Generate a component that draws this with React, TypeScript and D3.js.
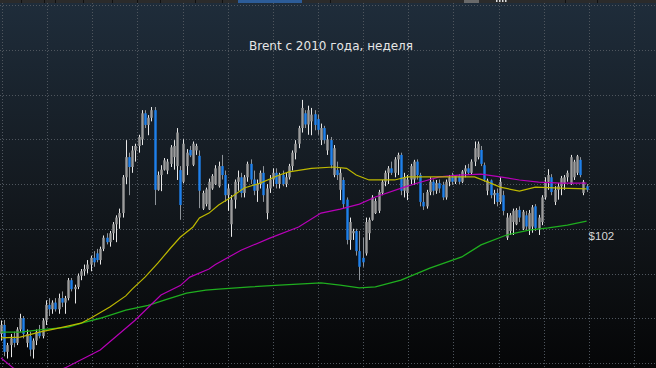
import React from 'react';
import * as d3 from 'd3';

const W = 656;
const H = 368;

const title = 'Brent с 2010 года, неделя';
const lastLabel = '$102';

// недельные свечи [open, high, low, close], с весны 2010
const candles: [number, number, number, number][] = [
  [76.5, 79.5, 75.0, 78.5], [78.5, 79.6, 71.5, 72.5], [72.5, 74.5, 71.0, 74.0], [74.0, 76.5, 71.3, 75.5],
  [75.5, 77.0, 73.5, 74.5], [74.5, 78.0, 74.0, 77.5], [77.5, 81.0, 77.0, 80.0], [80.0, 80.5, 75.5, 76.5],
  [74.5, 77.5, 73.5, 76.5], [76.0, 77.0, 71.5, 73.0], [73.0, 75.5, 71.0, 75.0], [75.0, 77.5, 74.0, 77.0],
  [77.0, 78.5, 75.5, 76.0], [76.0, 80.0, 75.5, 79.5], [79.5, 84.0, 78.5, 83.0], [83.0, 84.5, 80.5, 82.0],
  [82.0, 84.0, 81.0, 83.5], [83.5, 84.5, 81.5, 82.0], [82.0, 85.5, 81.0, 84.5], [84.5, 86.0, 82.5, 83.5],
  [83.5, 85.0, 81.0, 84.5], [84.5, 89.0, 84.0, 88.5], [88.5, 89.0, 86.0, 86.5], [86.5, 87.5, 83.3, 87.0],
  [87.0, 90.0, 86.5, 89.5], [89.5, 91.0, 88.5, 90.5], [90.5, 92.0, 89.5, 91.0], [91.0, 93.0, 90.0, 92.0],
  [92.0, 94.0, 90.5, 93.5], [93.5, 95.0, 91.5, 92.5], [94.5, 95.5, 92.5, 93.0], [93.0, 96.0, 92.0, 95.5],
  [95.5, 98.5, 95.0, 98.0], [98.0, 99.0, 96.5, 97.0], [97.0, 99.5, 96.0, 99.0], [99.0, 101.5, 97.5, 101.0],
  [101.0, 103.0, 97.0, 102.5], [102.5, 104.5, 100.0, 103.5], [103.5, 112.0, 102.5, 111.5], [111.5, 119.8, 110.0, 116.0],
  [116.0, 117.0, 107.5, 113.8], [113.8, 118.5, 112.5, 117.5], [117.5, 119.0, 115.0, 118.5], [118.5, 121.0, 117.0, 120.5],
  [120.0, 126.5, 118.7, 125.8], [125.8, 126.5, 122.5, 123.2], [123.2, 125.4, 120.9, 124.8], [124.8, 127.2, 124.0, 126.5],
  [126.5, 127.2, 105.3, 108.7], [108.7, 112.8, 108.5, 112.0], [112.0, 114.2, 108.4, 113.2], [113.2, 115.8, 113.0, 115.3],
  [113.0, 115.6, 112.2, 115.0], [114.5, 118.7, 113.8, 118.2], [116.0, 119.8, 113.2, 118.5], [114.0, 122.5, 110.9, 121.5],
  [113.1, 114.0, 102.0, 105.3], [110.5, 120.0, 110.2, 119.0], [114.0, 117.8, 112.0, 117.0], [117.6, 118.5, 116.0, 116.4],
  [114.3, 119.5, 114.0, 119.0], [117.5, 119.0, 116.5, 118.5], [116.3, 117.5, 104.6, 108.5], [104.5, 108.5, 104.2, 108.0],
  [105.5, 109.2, 105.0, 108.8], [104.3, 111.2, 104.2, 110.5], [109.0, 112.2, 108.7, 111.8], [110.0, 114.2, 109.8, 113.5],
  [109.5, 115.0, 109.2, 114.0], [114.0, 116.5, 111.0, 112.0], [112.0, 113.0, 106.0, 107.5], [107.5, 110.0, 104.0, 109.0],
  [101.0, 107.5, 98.2, 106.5], [106.5, 111.0, 104.5, 110.5], [110.5, 113.0, 108.5, 111.5], [111.5, 112.5, 107.0, 108.0],
  [108.0, 112.0, 107.0, 111.5], [111.5, 115.0, 110.5, 114.5], [114.5, 115.5, 110.0, 111.0], [111.0, 113.0, 107.5, 108.5],
  [108.5, 111.0, 106.0, 110.0], [110.0, 113.0, 109.0, 112.5], [112.5, 114.0, 106.0, 107.5], [103.5, 110.0, 102.1, 109.0],
  [109.0, 112.0, 108.0, 111.0], [111.0, 113.5, 109.5, 112.5], [112.5, 113.5, 109.0, 110.0], [110.0, 112.5, 109.0, 112.0],
  [112.0, 113.0, 109.5, 110.0], [110.0, 112.5, 109.3, 111.5], [111.5, 114.5, 111.0, 114.0], [114.0, 117.5, 113.0, 117.0],
  [117.0, 119.8, 115.5, 119.0], [119.0, 123.0, 118.0, 122.5], [122.5, 128.8, 121.5, 127.0], [125.8, 126.5, 122.5, 123.3],
  [123.3, 127.5, 121.0, 126.5], [124.0, 127.0, 120.9, 125.5], [125.6, 126.5, 122.0, 123.2], [124.5, 125.5, 121.0, 122.1],
  [119.8, 123.5, 118.7, 122.5], [122.5, 123.0, 119.0, 119.8], [117.5, 121.0, 116.5, 120.0], [119.8, 120.5, 113.5, 114.2],
  [112.0, 118.7, 111.5, 118.0], [113.1, 115.0, 110.9, 112.0], [108.7, 113.5, 106.4, 112.5], [110.9, 111.5, 104.5, 105.5],
  [106.5, 107.0, 96.5, 97.5], [97.5, 102.5, 95.3, 101.5], [99.0, 100.0, 97.5, 99.5], [99.5, 100.0, 94.0, 95.0],
  [95.0, 99.5, 88.5, 91.5], [93.5, 98.0, 91.5, 92.5], [94.5, 102.5, 94.0, 101.5], [99.0, 102.5, 97.5, 102.0],
  [102.0, 107.5, 101.8, 107.0], [103.5, 106.8, 103.3, 106.2], [104.0, 108.7, 103.5, 108.2], [108.0, 110.9, 107.5, 110.5],
  [110.5, 113.0, 109.5, 112.5], [112.5, 114.0, 110.0, 113.5], [113.5, 115.0, 112.0, 112.5], [112.5, 116.0, 111.5, 115.5],
  [115.5, 117.0, 112.0, 116.5], [116.5, 117.0, 107.5, 108.5], [108.5, 112.5, 107.0, 111.5], [108.0, 112.0, 106.4, 111.0],
  [111.0, 114.5, 110.0, 114.0], [111.0, 115.4, 109.8, 115.0], [115.0, 115.5, 111.0, 112.0], [112.0, 112.5, 105.0, 106.0],
  [106.0, 108.0, 104.2, 105.0], [105.0, 108.7, 104.5, 108.2], [108.2, 111.5, 107.5, 110.5], [110.5, 111.0, 107.5, 108.5],
  [108.5, 110.9, 107.8, 110.2], [110.2, 111.0, 108.0, 109.0], [109.8, 110.5, 106.4, 107.0], [107.0, 111.0, 106.5, 110.5],
  [110.5, 112.0, 109.5, 111.5], [111.5, 112.5, 109.8, 110.5], [110.5, 112.0, 110.0, 111.8], [111.8, 112.2, 110.0, 110.5],
  [110.5, 113.1, 110.2, 112.8], [112.8, 114.2, 111.5, 113.5], [113.5, 114.5, 112.0, 112.5], [112.5, 115.5, 112.0, 115.0],
  [115.0, 119.5, 114.0, 118.0], [116.0, 119.5, 115.5, 119.0], [117.6, 118.5, 114.0, 114.5], [114.2, 114.8, 110.5, 111.0],
  [108.5, 111.2, 107.5, 110.8], [110.8, 111.0, 106.8, 107.5], [107.5, 108.7, 105.5, 108.0], [108.0, 109.0, 105.0, 106.0],
  [106.0, 111.5, 105.5, 110.5], [107.5, 108.5, 103.0, 104.0], [98.0, 103.5, 97.5, 102.5], [99.5, 103.5, 98.6, 103.0],
  [101.5, 104.5, 98.6, 104.0], [101.0, 104.6, 100.8, 104.2], [104.2, 105.0, 101.5, 102.5], [100.0, 104.2, 99.7, 103.8],
  [103.0, 104.0, 99.7, 100.5], [100.0, 104.2, 98.6, 103.5], [100.5, 105.3, 99.1, 104.8], [105.0, 105.5, 99.5, 100.2],
  [100.0, 103.1, 98.6, 102.5], [101.5, 107.5, 100.8, 107.0], [107.0, 111.5, 106.5, 110.5], [110.5, 113.3, 108.7, 112.0],
  [111.5, 112.2, 107.5, 108.2], [106.0, 109.5, 105.3, 108.7], [108.7, 110.2, 106.5, 109.5], [109.5, 111.8, 107.5, 111.3],
  [110.0, 112.0, 108.7, 111.5], [111.5, 113.0, 110.5, 112.5], [110.0, 116.5, 109.8, 116.0], [111.5, 115.4, 110.9, 115.0],
  [112.5, 116.5, 112.0, 116.2], [115.4, 116.0, 111.5, 112.0], [108.0, 110.9, 107.5, 110.5], [109.5, 110.0, 108.2, 108.7],
];

// скользящие средние: [номер недели, цена]
const yellowMA: [number, number][] = [
  [0, 75.6], [6, 75.8], [12, 76.9], [18, 77.8], [25, 78.9], [28, 80.0], [34, 82.5], [39, 85.0], [41, 86.5],
  [45, 89.2], [49, 92.3], [53, 95.7], [56, 98.1], [60, 100.4], [62, 102.4], [65, 103.5], [68, 105.3], [72, 107.1],
  [76, 109.1], [81, 110.2], [87, 112.0], [90, 112.7], [97, 113.5], [104, 113.8], [108, 113.5], [111, 112.0],
  [115, 110.9], [123, 110.9], [127, 111.6], [134, 111.6], [148, 111.6], [153, 110.2], [156, 109.3], [162, 108.4],
  [167, 109.3], [175, 109.1], [183, 108.9],
];
const magentaMA: [number, number][] = [
  [0, 71.1], [4, 68.8], [10, 67.6], [15, 67.6], [20, 68.9], [31, 72.9], [42, 79.6], [50, 85.2], [56, 87.3],
  [59, 89.2], [65, 91.0], [67, 92.0], [75, 95.2], [84, 97.9], [93, 100.4], [100, 103.5], [106, 104.4], [112, 105.5],
  [117, 107.1], [126, 109.3], [131, 110.4], [137, 111.6], [143, 112.0], [150, 112.2], [156, 111.6], [162, 110.9],
  [168, 110.4], [175, 110.2], [183, 110.2],
];
const greenMA: [number, number][] = [
  [0, 76.9], [6, 76.9], [12, 77.4], [21, 78.0], [26, 79.1], [31, 80.0], [39, 81.8], [46, 82.9], [52, 84.3],
  [58, 85.6], [64, 86.3], [68, 86.5], [78, 87.0], [87, 87.4], [100, 87.9], [106, 87.4], [112, 86.8], [117, 87.0],
  [125, 88.5], [134, 91.2], [144, 93.7], [150, 96.4], [158, 98.6], [165, 99.7], [171, 100.2], [177, 100.8], [183, 101.7],
];

const priceGrid = d3.range(70, 151, 10);
const timeGrid = d3.range(0, 15);

export default function App() {
  const x = d3.scaleLinear().domain([0, candles.length - 1]).range([1, 586.6]);
  const y = d3.scaleLinear().domain([70, 150]).range([363, 5]);
  const gx = d3.scaleLinear().domain([0, 14]).range([2, 634]);
  const line = d3.line<[number, number]>().x(d => x(d[0])).y(d => y(d[1]));

  const lastGreen = greenMA[greenMA.length - 1];

  return (
    <svg width={W} height={H} style={{ position: 'absolute', left: 0, top: 0, display: 'block' }}>
      <defs>
        <linearGradient id="bg" x1="0" y1="0" x2="0" y2="1">
          <stop offset="0" stopColor="#1f2d3b" />
          <stop offset="0.25" stopColor="#19232d" />
          <stop offset="0.5" stopColor="#141a20" />
          <stop offset="0.75" stopColor="#0d1013" />
          <stop offset="1" stopColor="#050607" />
        </linearGradient>
      </defs>
      <rect width={W} height={H} fill="url(#bg)" />

      {/* панель сверху */}
      <rect width={W} height={3} fill="#2b2b2b" />
      <rect x={238} width={64} height={3} fill="#2c5c98" />
      <rect x={464} width={15} height={3} fill="#6a6a6a" />
      {[21, 44, 55, 83, 112, 137, 160, 195, 222, 330, 565, 597].map(s => (
        <rect key={s} x={s} width={1} height={3} fill="#111" />
      ))}
      {[496, 499, 502, 505].map(s => (
        <rect key={s} x={s} width={1.5} height={2} fill="#ddd" />
      ))}

      <g stroke="#4f565e" strokeWidth={1} strokeDasharray="1,2">
        {priceGrid.map(p => (
          <line key={p} x1={0} x2={W} y1={Math.round(y(p)) + 0.5} y2={Math.round(y(p)) + 0.5} />
        ))}
        {timeGrid.map(t => (
          <line key={t} x1={Math.round(gx(t)) + 0.5} x2={Math.round(gx(t)) + 0.5} y1={3} y2={H} />
        ))}
      </g>

      <g>
        {candles.map(([o, h, l, c], i) => {
          const cx = Math.round(x(i)) + 0.5;
          const down = c < o;
          const top = y(Math.max(o, c));
          const bh = Math.max(1, y(Math.min(o, c)) - top);
          return (
            <g key={i}>
              <line x1={cx} x2={cx} y1={y(h)} y2={y(l)} stroke={down ? '#8e949a' : '#e8e8e8'} strokeWidth={1} />
              <rect x={cx - 1.2} y={top} width={2.4} height={bh} fill={down ? '#1e80ec' : '#9c9c9c'} />
            </g>
          );
        })}
      </g>

      <path d={line(greenMA) ?? ''} fill="none" stroke="#1fae1f" strokeWidth={1.3} />
      <path d={line(magentaMA) ?? ''} fill="none" stroke="#b800b8" strokeWidth={1.2} />
      <path d={line(yellowMA) ?? ''} fill="none" stroke="#bdb800" strokeWidth={1.2} />

      <text x={331} y={50} textAnchor="middle" fill="#e6e6e6" fontFamily="DejaVu Sans" fontSize={12}>
        {title}
      </text>
      <text x={x(lastGreen[0]) + 2} y={y(lastGreen[1]) + 19} fill="#d6d6d6" fontFamily="Liberation Sans" fontSize={11.5}>
        {lastLabel}
      </text>
    </svg>
  );
}
